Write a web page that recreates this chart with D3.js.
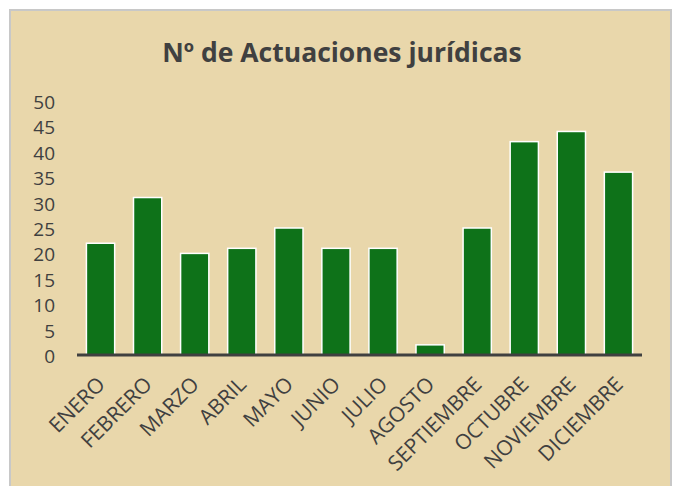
<!DOCTYPE html>
<html>
<head>
<meta charset="utf-8">
<script src="https://cdn.jsdelivr.net/npm/d3@7"></script>
<style>
  html, body { margin: 0; padding: 0; background: #ffffff; }
  svg { display: block; }
</style>
</head>
<body>
<svg id="chart" width="680" height="486"></svg>
<script>
const title = "Nº de Actuaciones jurídicas";
const months = ["ENERO","FEBRERO","MARZO","ABRIL","MAYO","JUNIO","JULIO","AGOSTO","SEPTIEMBRE","OCTUBRE","NOVIEMBRE","DICIEMBRE"];
const values = [22, 31, 20, 21, 25, 21, 21, 2, 25, 42, 44, 36];
const yTicks = [0, 5, 10, 15, 20, 25, 30, 35, 40, 45, 50];

const svg = d3.select("#chart");
const FONT = "'Open Sans', sans-serif";
const TEXT = "#404040";

// panel
svg.append("rect")
  .attr("x", 10).attr("y", 10).attr("width", 661).attr("height", 490)
  .attr("fill", "#e9d7ab").attr("stroke", "#c8c8c8").attr("stroke-width", 2);

svg.append("text")
  .attr("x", 342).attr("y", 62)
  .attr("text-anchor", "middle")
  .attr("font-family", FONT).attr("font-weight", "bold").attr("font-size", 26.5)
  .attr("fill", TEXT)
  .text(title);

const x = d3.scaleBand().domain(months).range([77, 642]).paddingInner(0.4).paddingOuter(0.2);
const y = d3.scaleLinear().domain([0, 50]).range([355, 101]);

// y axis labels
const yAxis = svg.append("g").attr("transform", "translate(55,1.5)")
  .call(d3.axisLeft(y).tickValues(yTicks).tickSize(0).tickPadding(0));
yAxis.select(".domain").remove();
yAxis.selectAll("text")
  .attr("font-family", FONT).attr("font-size", 19).attr("fill", TEXT);

// bars
svg.append("g").selectAll("rect").data(months).join("rect")
  .attr("x", d => x(d))
  .attr("y", (d, i) => y(values[i]))
  .attr("width", x.bandwidth())
  .attr("height", (d, i) => y(0) - y(values[i]))
  .attr("fill", "#0e7219")
  .attr("stroke", "#ffffff").attr("stroke-width", 1.5);

// baseline
svg.append("line")
  .attr("x1", 77).attr("x2", 642).attr("y1", y(0)).attr("y2", y(0))
  .attr("stroke", "#404040").attr("stroke-width", 3);

// x labels
const xAxis = svg.append("g").attr("transform", `translate(0,${y(0)})`)
  .call(d3.axisBottom(x).tickSize(0).tickPadding(0));
xAxis.select(".domain").remove();
xAxis.selectAll("text")
  .attr("font-family", FONT).attr("font-size", 21).attr("fill", TEXT)
  .attr("text-anchor", "end")
  .attr("dy", "0.72em")
  .attr("transform", "translate(-5,20) rotate(-45)");
</script>
</body>
</html>
